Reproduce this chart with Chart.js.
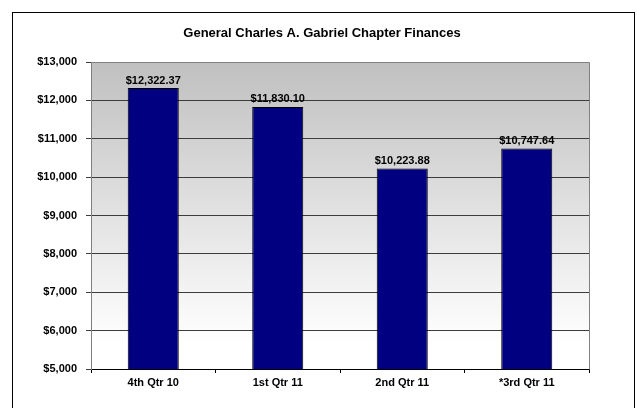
<!DOCTYPE html>
<html>
<head>
<meta charset="utf-8">
<script src="https://cdn.jsdelivr.net/npm/chart.js@4/dist/chart.umd.min.js"></script>
<style>
html,body{margin:0;padding:0;background:#fff;}
#wrap{width:637px;height:408px;}
</style>
</head>
<body>
<div id="wrap"><canvas id="c" width="637" height="408"></canvas></div>
<script>
const categories = ['4th Qtr 10', '1st Qtr 11', '2nd Qtr 11', '*3rd Qtr 11'];
const values = [12322.37, 11830.10, 10223.88, 10747.64];
const yMin = 5000, yMax = 13000, yStep = 1000;
const titleText = 'General Charles A. Gabriel Chapter Finances';

const FONT = '"Liberation Sans", Arial, sans-serif';

const money0 = v => '$' + Math.round(v).toLocaleString('en-US');
const money2 = v => '$' + v.toLocaleString('en-US', {minimumFractionDigits: 2, maximumFractionDigits: 2});

const decor = {
  id: 'decor',
  beforeDraw(chart) {
    const ctx = chart.ctx, a = chart.chartArea;
    ctx.save();
    ctx.fillStyle = '#fff';
    ctx.fillRect(0, 0, chart.width, chart.height);
    // outer frame
    ctx.strokeStyle = '#000';
    ctx.lineWidth = 1;
    ctx.strokeRect(12.5, 12.5, 622, 410);
    // plot gradient
    const g = ctx.createLinearGradient(0, a.top, 0, a.bottom);
    g.addColorStop(0, '#c0c0c0');
    g.addColorStop(0.92, '#ffffff');
    g.addColorStop(1, '#ffffff');
    ctx.fillStyle = g;
    ctx.fillRect(a.left, a.top, a.right - a.left, a.bottom - a.top);
    // title
    ctx.fillStyle = '#000';
    ctx.font = 'bold 13px ' + FONT;
    ctx.textAlign = 'center';
    ctx.textBaseline = 'middle';
    ctx.fillText(titleText, 322, 33);
    ctx.restore();
  },
  afterDatasetsDraw(chart) {
    const ctx = chart.ctx, a = chart.chartArea;
    ctx.save();
    // plot border (gray)
    ctx.strokeStyle = '#808080';
    ctx.lineWidth = 1;
    ctx.beginPath();
    ctx.moveTo(Math.round(a.left) + 0.5, Math.round(a.top) + 0.5);
    ctx.lineTo(Math.round(a.right) + 0.5, Math.round(a.top) + 0.5);
    ctx.lineTo(Math.round(a.right) + 0.5, Math.round(a.bottom) + 0.5);
    ctx.stroke();
    // data labels
    ctx.fillStyle = '#000';
    ctx.font = 'bold 11px ' + FONT;
    ctx.textAlign = 'center';
    ctx.textBaseline = 'bottom';
    const meta = chart.getDatasetMeta(0);
    meta.data.forEach((bar, i) => {
      ctx.fillText(money2(values[i]), bar.x, bar.y - 2);
    });
    ctx.restore();
  }
};

new Chart(document.getElementById('c'), {
  type: 'bar',
  data: {
    labels: categories,
    datasets: [{
      data: values,
      backgroundColor: '#000080',
      borderColor: '#000000',
      borderWidth: 1,
      barPercentage: 0.41,
      categoryPercentage: 1.0
    }]
  },
  options: {
    responsive: false,
    animation: false,
    devicePixelRatio: 1,
    layout: {padding: {top: 62, left: 0, right: 48, bottom: 0}},
    plugins: {legend: {display: false}, title: {display: false}, tooltip: {enabled: false}},
    scales: {
      x: {
        offset: true,
        grid: {display: true, drawOnChartArea: false, offset: true, tickLength: 4, color: '#000'},
        border: {display: true, color: '#000'},
        ticks: {color: '#000', font: {family: FONT, size: 11, weight: 'bold'}, padding: 3},
        afterFit(s) { s.height = 39; }
      },
      y: {
        min: yMin, max: yMax,
        grid: {color: '#3c3c3c', lineWidth: 1, tickLength: 5, drawTicks: true},
        border: {display: true, color: '#808080'},
        ticks: {stepSize: yStep, color: '#000', font: {family: FONT, size: 11, weight: 'bold'}, padding: 9,
          callback: v => money0(v)},
        afterFit(s) { s.width = 91; }
      }
    }
  },
  plugins: [decor]
});
</script>
</body>
</html>
